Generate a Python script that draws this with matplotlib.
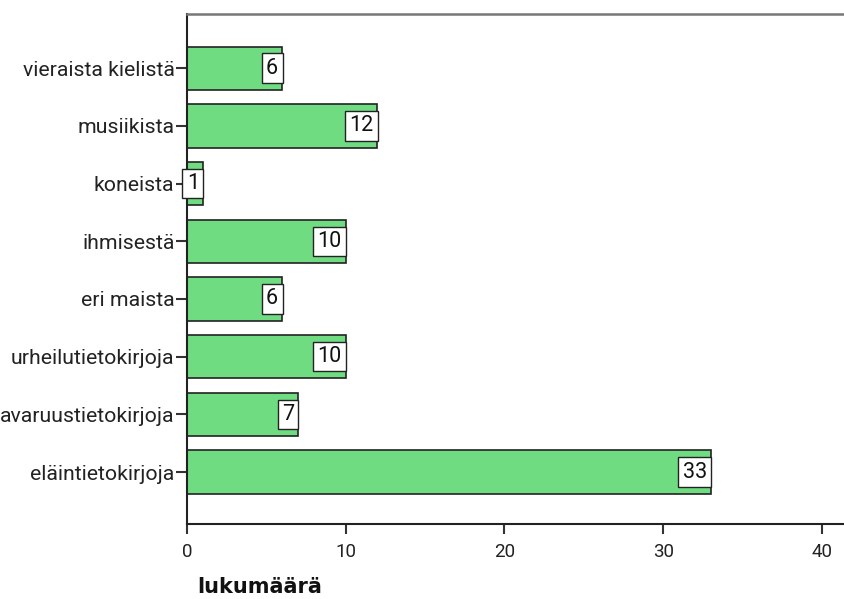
import matplotlib.pyplot as plt

# categories from bottom to top
categories = ['eläintietokirjoja', 'avaruustietokirjoja', 'urheilutietokirjoja',
              'eri maista', 'ihmisestä', 'koneista', 'musiikista', 'vieraista kielistä']
counts = [33, 7, 10, 6, 10, 1, 12, 6]
xticks = [0, 10, 20, 30, 40]

plt.rcParams['font.family'] = ['Roboto', 'DejaVu Sans']

fig = plt.figure(figsize = (8.45, 5.99), dpi = 100)
ax = fig.add_axes([187 / 845, 75 / 599, 1 - 187 / 845, 510 / 599])

pos = list(range(len(categories)))
ax.barh(pos, counts, height = 0.75, color = '#70dc82',
        edgecolor = '#222222', linewidth = 1.2)

for y, v in zip(pos, counts):
    ax.annotate(str(v), xy = (v, y), xytext = (-2.9, 0), textcoords = 'offset points',
                ha = 'right', va = 'center', fontsize = 15.5, color = '#111111',
                bbox = dict(boxstyle = 'square,pad=0.2', fc = 'white',
                            ec = '#222222', lw = 1.0))

ax.set_xlim(0, 41.45)
ax.set_ylim(-0.9, 7.94)
ax.set_yticks(pos)
ax.set_yticklabels(categories, fontsize = 15.3, color = '#222222')
ax.set_xticks(xticks)
ax.set_xticklabels([str(t) for t in xticks], fontsize = 13.5, color = '#222222')
ax.tick_params(axis = 'y', length = 8, width = 1.5, color = '#333333', pad = 1)
ax.tick_params(axis = 'x', length = 7, width = 1.5, color = '#333333', pad = 7)

for side in ['left', 'bottom']:
    ax.spines[side].set_color('#222222')
    ax.spines[side].set_linewidth(1.5)
ax.spines['top'].set_color('#777777')
ax.spines['top'].set_linewidth(1.8)
ax.spines['right'].set_visible(False)

fig.text(260 / 845, 1 - 587 / 599, 'lukumäärä', ha = 'center', va = 'center',
         fontsize = 15, fontweight = 'bold', color = '#111111',
         family = ['DejaVu Sans'])

fig.savefig('out.png', dpi = 100)
